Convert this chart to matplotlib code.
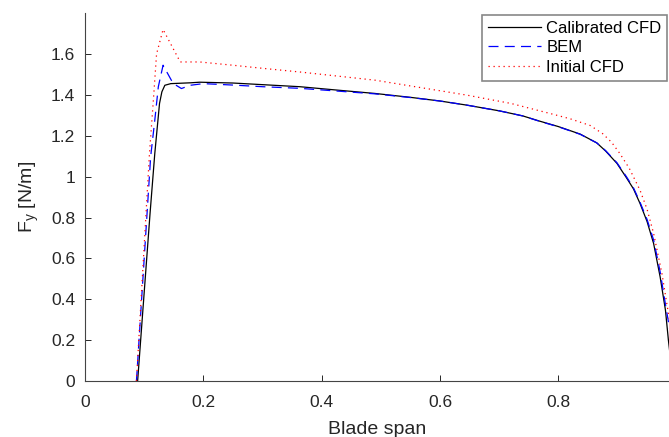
import matplotlib
matplotlib.use("Agg")
import matplotlib.pyplot as plt

plt.rcParams['font.family'] = ['Liberation Sans', 'DejaVu Sans']

# Calibrated CFD
span_cal = [0.089, 0.100, 0.110, 0.118, 0.126, 0.130, 0.135, 0.145, 0.178, 0.194,
            0.25, 0.30, 0.363, 0.42, 0.49, 0.55, 0.60, 0.645, 0.70, 0.74,
            0.769, 0.80, 0.837, 0.865, 0.88, 0.899, 0.915, 0.927, 0.938, 0.95,
            0.961, 0.972, 0.981, 0.986, 0.99]
fy_cal = [0.0, 0.43, 0.82, 1.113, 1.358, 1.415, 1.447, 1.455, 1.459, 1.462,
          1.458, 1.45, 1.44, 1.425, 1.407, 1.388, 1.37, 1.35, 1.322, 1.297,
          1.271, 1.245, 1.208, 1.165, 1.125, 1.065, 0.995, 0.94, 0.869, 0.78,
          0.673, 0.51, 0.347, 0.2, 0.1]

# BEM
span_bem = [0.087, 0.111, 0.118, 0.124, 0.132, 0.149, 0.163, 0.178, 0.2, 0.25,
            0.3, 0.363, 0.42, 0.49, 0.55, 0.6, 0.645, 0.7, 0.74, 0.769,
            0.80, 0.837, 0.865, 0.88, 0.899, 0.915, 0.927, 0.938, 0.95, 0.961,
            0.972, 0.981, 0.986, 0.99]
fy_bem = [0.0, 1.097, 1.276, 1.44, 1.545, 1.456, 1.431, 1.447, 1.455, 1.448,
          1.44, 1.432, 1.42, 1.405, 1.387, 1.37, 1.35, 1.322, 1.297, 1.27,
          1.244, 1.207, 1.165, 1.127, 1.068, 1.0, 0.945, 0.875, 0.79, 0.69,
          0.535, 0.375, 0.29, 0.22]

# Initial CFD
span_ini = [0.087, 0.109, 0.116, 0.121, 0.132, 0.161, 0.194, 0.25, 0.30, 0.363,
            0.49, 0.645, 0.72, 0.786, 0.82, 0.854, 0.875, 0.89, 0.904, 0.92,
            0.938, 0.95, 0.961, 0.975, 0.986, 0.99]
fy_ini = [0.0, 1.113, 1.39, 1.60, 1.72, 1.561, 1.561, 1.545, 1.53, 1.512,
          1.472, 1.399, 1.358, 1.309, 1.283, 1.25, 1.21, 1.168, 1.113, 1.04,
          0.934, 0.84, 0.722, 0.527, 0.331, 0.26]

fig = plt.figure(figsize=(6.69, 4.37), dpi=100)
ax = fig.add_axes([0.127, 0.128, 0.873, 0.842])

ax.plot(span_cal, fy_cal, color='black', lw=0.9, label='Calibrated CFD')
ax.plot(span_bem, fy_bem, color='blue', lw=0.9, ls=(0, (8, 5)), label='BEM')
ax.plot(span_ini, fy_ini, color='red', lw=0.9, ls=(0, (1, 3)), label='Initial CFD')

ax.set_xlim(0, 0.987)
ax.set_ylim(0, 1.8)
ax.set_xticks([0, 0.2, 0.4, 0.6, 0.8])
ax.set_xticklabels(['0', '0.2', '0.4', '0.6', '0.8'])
ax.set_yticks([0, 0.2, 0.4, 0.6, 0.8, 1.0, 1.2, 1.4, 1.6])
ax.set_yticklabels(['0', '0.2', '0.4', '0.6', '0.8', '1', '1.2', '1.4', '1.6'])

for side in ['top', 'right']:
    ax.spines[side].set_visible(False)
for side in ['left', 'bottom']:
    ax.spines[side].set_color('#444444')
    ax.spines[side].set_linewidth(0.8)
ax.tick_params(direction='in', length=4.5, width=0.7, colors='#262626',
               labelsize=12.5, pad=7)
ax.tick_params(axis='x', pad=10)

ax.set_xlabel('Blade span', fontsize=14, color='#262626', labelpad=8)
ax.set_ylabel(r'F$_\mathregular{y}$ [N/m]', fontsize=14, color='#262626', labelpad=7)

leg = ax.legend(loc='upper right', bbox_to_anchor=(1.0, 1.0), fontsize=12,
                handlelength=3.2, handletextpad=0.3, borderpad=0.35,
                labelspacing=0.28, fancybox=False, framealpha=1, borderaxespad=0.1)
leg.get_frame().set_edgecolor('#888888')
leg.get_frame().set_linewidth(1.2)

fig.savefig('out.png', dpi=100)
